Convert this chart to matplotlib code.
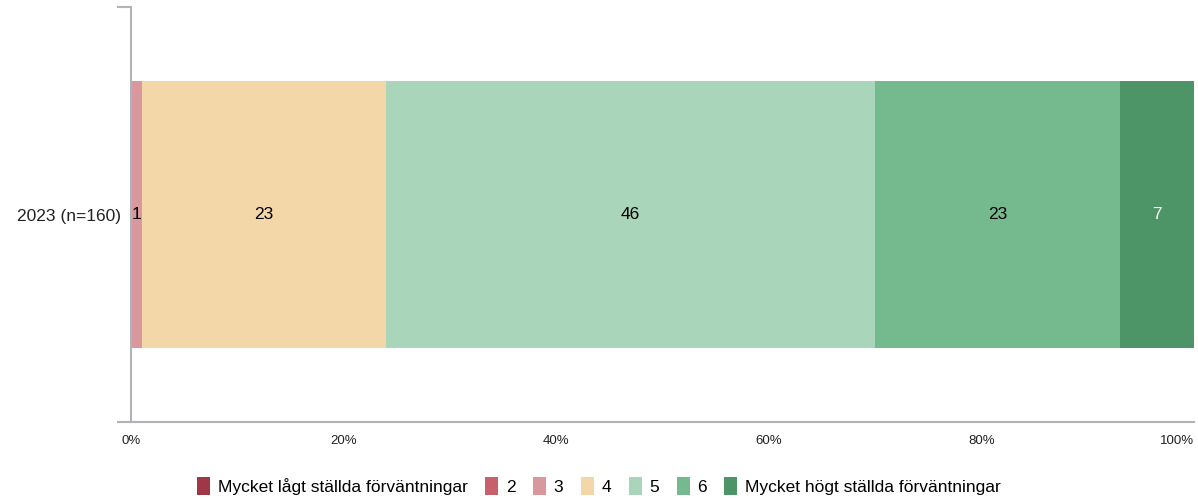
import matplotlib
matplotlib.use("Agg")
import matplotlib.pyplot as plt
from matplotlib.patches import Patch

plt.rcParams["font.family"] = ["Liberation Sans", "DejaVu Sans"]

category = "2023 (n=160)"
levels = ["Mycket lågt ställda förväntningar", "2", "3", "4", "5", "6",
          "Mycket högt ställda förväntningar"]
values = [0, 0, 1, 23, 46, 23, 7]
colors = ["#9e3846", "#c5606c", "#d9979e", "#f3d7a8", "#a9d5ba", "#75b98f", "#4d9567"]
text_colors = ["white", "black", "black", "black", "black", "black", "white"]
xticks = [0, 20, 40, 60, 80, 100]
xticklabels = ["0%", "20%", "40%", "60%", "80%", "100%"]

fig = plt.figure(figsize=(11.98, 4.98), dpi=100)
ax = fig.add_axes([131 / 1198, 1 - 422 / 498, 1063 / 1198, 415 / 498])

left = 0
for v, c, tc in zip(values, colors, text_colors):
    if v > 0:
        ax.barh(0, v, left=left, height=0.643, color=c, edgecolor="none")
        ax.text(left + v / 2, 0, str(v), ha="center", va="center",
                fontsize=12.5, color=tc)
    left += v

ax.set_xlim(0, 100)
ax.set_ylim(-0.5, 0.5)
ax.set_yticks([0])
ax.set_yticklabels([category], fontsize=12.5)
ax.set_yticks([-0.5, 0.5], minor=True)
ax.tick_params(axis="y", which="major", length=0, pad=7, colors="#222222")
ax.tick_params(axis="y", which="minor", length=10, width=1.5, color="#b0b3b8")
ax.set_xticks(xticks)
ax.set_xticklabels(xticklabels, fontsize=9.5)
ax.tick_params(axis="x", length=0, pad=9, colors="#222222")
ax.get_xticklabels()[-1].set_ha("right")

for s in ["top", "right"]:
    ax.spines[s].set_visible(False)
for s in ["left", "bottom"]:
    ax.spines[s].set_color("#b0b3b8")
    ax.spines[s].set_linewidth(1.5)

handles = [Patch(facecolor=c, edgecolor="none") for c in colors]
fig.legend(handles, levels, loc="center", bbox_to_anchor=(0.5, 1 - 486 / 498),
           ncol=7, frameon=False, fontsize=12.5, handlelength=0.75, handleheight=1.2,
           handletextpad=0.45, columnspacing=1.0)

fig.savefig("out.png", dpi=100)
